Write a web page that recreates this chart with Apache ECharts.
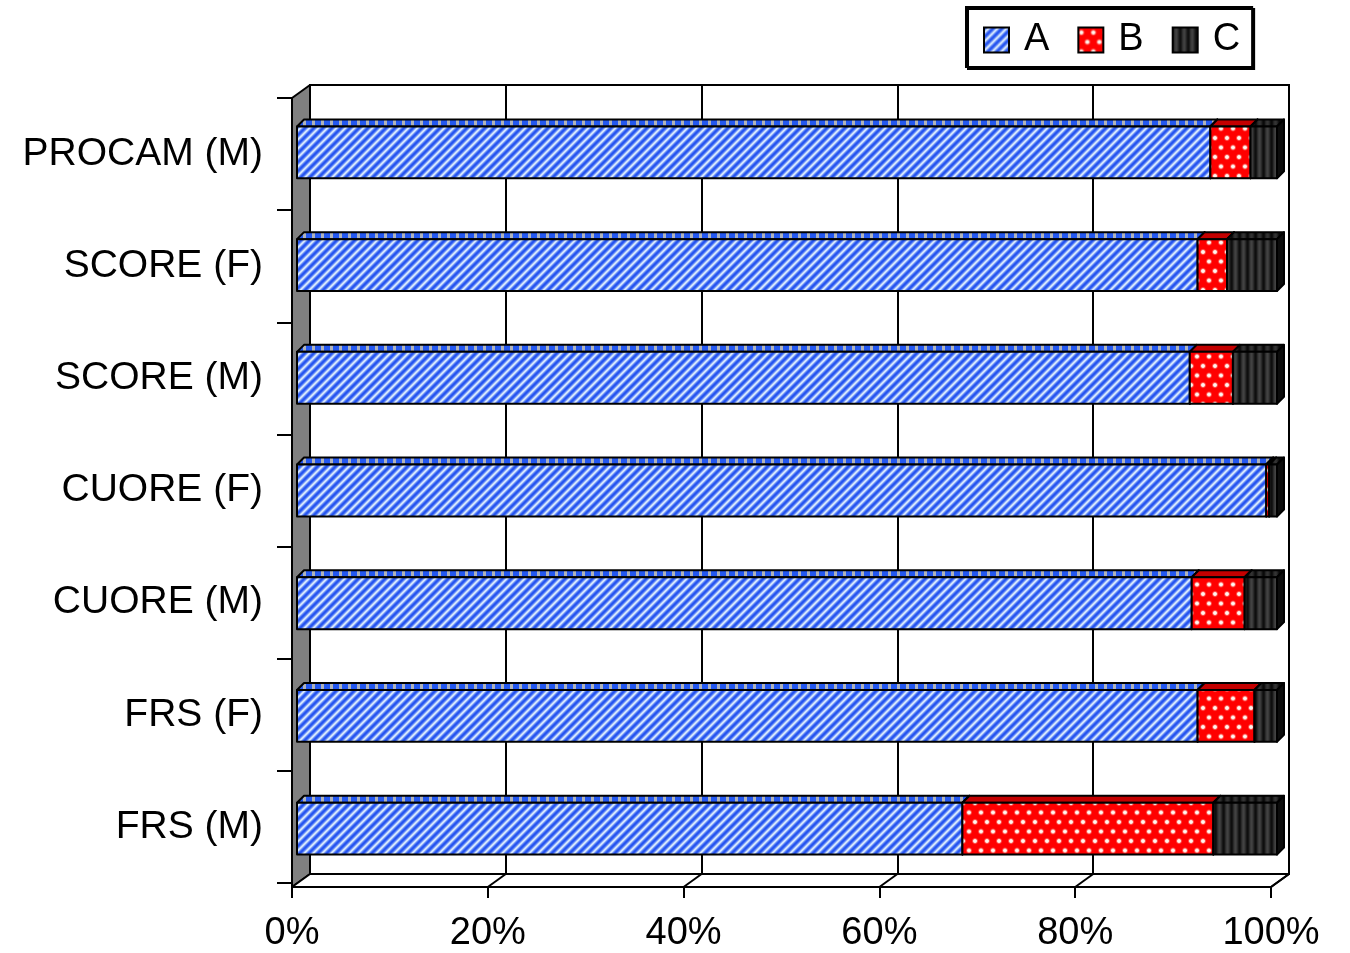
<!DOCTYPE html>
<html>
<head>
<meta charset="utf-8">
<script src="https://cdn.jsdelivr.net/npm/echarts@6/dist/echarts.min.js"></script>
<style>
  html, body { margin: 0; padding: 0; background: #fff; }
  #chart { width: 1350px; height: 953px; }
</style>
</head>
<body>
<div id="chart"></div>
<script>
// Risk-score agreement per score and sex, stacked to 100%
const categories = ['PROCAM (M)', 'SCORE (F)', 'SCORE (M)', 'CUORE (F)', 'CUORE (M)', 'FRS (F)', 'FRS (M)'];
const seriesNames = ['A', 'B', 'C'];
const valuesA = [93.2, 91.9, 91.1, 98.9, 91.3, 91.9, 67.9];
const valuesB = [4.1, 3.0, 4.4, 0.3, 5.4, 5.8, 25.6];
const valuesC = [2.7, 5.1, 4.5, 0.8, 3.3, 2.3, 6.5];
const axisMax = 100;
const axisStep = 20;

// ---- layout of the 3D box (front plane and depth shift of the back wall) ----
const FX = 292, FY = 98, FW = 979, FH = 789;
const WALL_DX = 18, WALL_DY = -13;
const BAR_DX = 7, BAR_DY = -7;
const FONT = "'Liberation Sans', Arial, sans-serif";

// ---- fill patterns drawn on small tiles ----
function tile(w, h, draw) {
  const c = document.createElement('canvas');
  c.width = w; c.height = h;
  draw(c.getContext('2d'), w, h);
  return { image: c, repeat: 'repeat' };
}
function lerp(a, b, t) { return Math.round(a + (b - a) * t); }

// diagonal blue / light stripes
const fillA = tile(9, 9, (g, w, h) => {
  const img = g.createImageData(w, h);
  for (let y = 0; y < h; y++) {
    for (let x = 0; x < w; x++) {
      const ph = ((x + y) % 9) / 9;
      let t = 0.5 + 0.5 * Math.cos(2 * Math.PI * ph);
      t = Math.pow(t, 0.6);
      const i = (y * w + x) * 4;
      img.data[i] = lerp(236, 34, t);
      img.data[i + 1] = lerp(250, 82, t);
      img.data[i + 2] = lerp(255, 240, t);
      img.data[i + 3] = 255;
    }
  }
  g.putImageData(img, 0, 0);
});
// red with soft white dots in staggered rows
const fillB = tile(12, 19, (g, w, h) => {
  g.fillStyle = '#ff0000';
  g.fillRect(0, 0, w, h);
  [[3, 5], [9, 14.5]].forEach(([cx, cy]) => {
    const rg = g.createRadialGradient(cx, cy, 0, cx, cy, 3.8);
    rg.addColorStop(0, 'rgba(255,255,255,1)');
    rg.addColorStop(0.4, 'rgba(255,245,235,0.95)');
    rg.addColorStop(1, 'rgba(255,0,0,0)');
    g.fillStyle = rg;
    g.fillRect(cx - 4, cy - 4, 8, 8);
  });
});
// dark vertical stripes
const stripeC = ['#161616', '#2a2a2a', '#3a3a3a', '#424242', '#3a3a3a', '#2a2a2a', '#181818', '#0e0e0e'];
const fillC = tile(8, 1, (g) => {
  stripeC.forEach((c, i) => { g.fillStyle = c; g.fillRect(i, 0, 1, 1); });
});
// top faces
const topA = tile(9, 1, (g) => {
  g.fillStyle = '#2458f0'; g.fillRect(0, 0, 6, 1);
  g.fillStyle = '#b0b4bc'; g.fillRect(6, 0, 3, 1);
});
const topB = '#c40000';
const topC = tile(8, 1, (g) => {
  ['#101010', '#222', '#2e2e2e', '#333', '#2e2e2e', '#222', '#121212', '#0a0a0a'].forEach((c, i) => {
    g.fillStyle = c; g.fillRect(i, 0, 1, 1);
  });
});
const sideFill = ['#2a4aa8', '#a00000', '#0c0c0c'];
const frontFills = [fillA, fillB, fillC];
const topFills = [topA, topB, topC];

// ---- stacked data: [category index, stack base, value] ----
const seriesValues = [valuesA, valuesB, valuesC];
const stackBase = categories.map(() => 0);
const stackedData = seriesValues.map((vals) =>
  vals.map((v, i) => {
    const item = [i, stackBase[i], v];
    stackBase[i] += v;
    return item;
  })
);

function makeRender(k) {
  return function (params, api) {
    const ci = api.value(0), base = api.value(1), v = api.value(2);
    const s = api.coord([base, ci]);
    const e = api.coord([base + v, ci]);
    const h = api.size([0, 1])[1] * 0.46;
    const x0 = s[0], x1 = e[0], y0 = s[1] - h / 2, y1 = s[1] + h / 2;
    const line = { stroke: '#000', lineWidth: 2, lineJoin: 'round' };
    return {
      type: 'group',
      children: [
        { type: 'polygon',
          shape: { points: [[x0, y0], [x1, y0], [x1 + BAR_DX, y0 + BAR_DY], [x0 + BAR_DX, y0 + BAR_DY]] },
          style: Object.assign({ fill: topFills[k] }, line) },
        { type: 'polygon',
          shape: { points: [[x1, y0], [x1 + BAR_DX, y0 + BAR_DY], [x1 + BAR_DX, y1 + BAR_DY], [x1, y1]] },
          style: Object.assign({ fill: sideFill[k] }, line) },
        { type: 'rect',
          shape: { x: x0, y: y0, width: x1 - x0, height: h },
          style: Object.assign({ fill: frontFills[k] }, line) }
      ]
    };
  };
}

// ---- box walls and floor ----
const wallLine = { stroke: '#000', lineWidth: 2, lineJoin: 'round' };
const graphics = [
  { type: 'polygon', z: 1, silent: true,
    shape: { points: [[FX, FY], [FX + WALL_DX, FY + WALL_DY], [FX + WALL_DX, FY + WALL_DY + FH], [FX, FY + FH]] },
    style: Object.assign({ fill: '#808080' }, wallLine) },
  { type: 'polygon', z: 1, silent: true,
    shape: { points: [[FX, FY + FH], [FX + WALL_DX, FY + WALL_DY + FH], [FX + WALL_DX + FW, FY + WALL_DY + FH], [FX + FW, FY + FH]] },
    style: Object.assign({ fill: '#fff' }, wallLine) }
];
for (let v = axisStep; v <= axisMax; v += axisStep) {
  const x = FX + FW * v / axisMax;
  graphics.push({ type: 'line', z: 1, silent: true,
    shape: { x1: x, y1: FY + FH, x2: x + WALL_DX, y2: FY + FH + WALL_DY },
    style: { stroke: '#000', lineWidth: 2 } });
}

const chart = echarts.init(document.getElementById('chart'), null, { renderer: 'canvas' });
chart.setOption({
  animation: false,
  backgroundColor: '#fff',
  textStyle: { fontFamily: FONT },
  legend: {
    left: 966, top: 7,
    itemWidth: 25, itemHeight: 25, itemGap: 28,
    padding: [14, 12, 8, 17],
    borderColor: '#000', borderWidth: 2, borderRadius: 0,
    backgroundColor: '#fff',
    shadowColor: '#000', shadowOffsetX: 2, shadowOffsetY: 2, shadowBlur: 0,
    selectedMode: false,
    textStyle: { fontSize: 38, fontFamily: FONT, color: '#000', padding: [0, 0, 0, 10] },
    data: seriesNames.map((n, k) => ({
      name: n, icon: 'rect',
      itemStyle: { color: frontFills[k], borderColor: '#000', borderWidth: 2 }
    }))
  },
  grid: [
    { left: FX, top: FY, width: FW, height: FH },
    { left: FX + WALL_DX, top: FY + WALL_DY, width: FW, height: FH,
      show: true, backgroundColor: '#fff', borderColor: '#000', borderWidth: 2 },
    { left: FX + 5, top: FY - 2, width: FW + 1, height: FH }
  ],
  xAxis: [
    { gridIndex: 0, type: 'value', min: 0, max: axisMax, interval: axisStep,
      axisLine: { show: true, lineStyle: { color: '#000', width: 2 } },
      axisTick: { show: true, length: 15, lineStyle: { color: '#000', width: 2 } },
      splitLine: { show: false },
      axisLabel: { formatter: '{value}%', fontSize: 38, color: '#000', fontFamily: FONT, margin: 32 } },
    { gridIndex: 1, type: 'value', min: 0, max: axisMax, interval: axisStep,
      axisLine: { show: false }, axisTick: { show: false }, axisLabel: { show: false },
      splitLine: { show: true, lineStyle: { color: '#000', width: 2 } } },
    { gridIndex: 2, type: 'value', min: 0, max: axisMax, show: false }
  ],
  yAxis: [
    { gridIndex: 0, type: 'category', data: categories, inverse: true,
      axisLine: { show: true, lineStyle: { color: '#000', width: 2 } },
      axisTick: { show: true, length: 15, lineStyle: { color: '#000', width: 2 } },
      axisLabel: { fontSize: 39, color: '#000', fontFamily: FONT, margin: 29 } },
    { gridIndex: 1, type: 'category', data: categories, inverse: true, show: false },
    { gridIndex: 2, type: 'category', data: categories, inverse: true, show: false }
  ],
  graphic: graphics,
  series: seriesNames.map((n, k) => ({
    name: n,
    type: 'custom',
    xAxisIndex: 2, yAxisIndex: 2,
    z: 3 + k,
    itemStyle: { color: frontFills[k] },
    encode: { x: [1, 2], y: 0 },
    renderItem: makeRender(k),
    data: stackedData[k]
  }))
});
</script>
</body>
</html>
